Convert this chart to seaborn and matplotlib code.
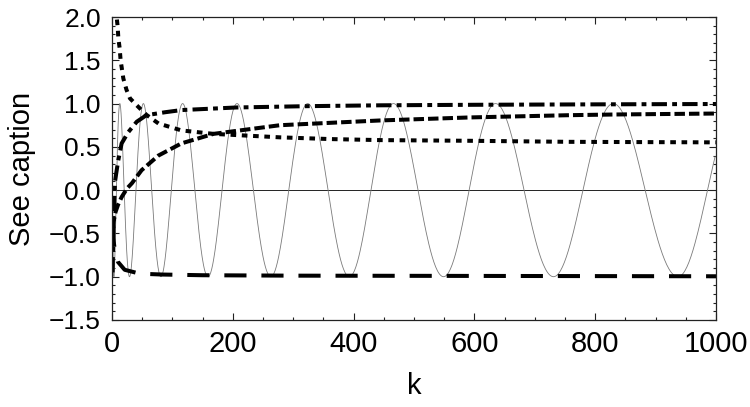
import numpy as np
import pandas as pd
import matplotlib
matplotlib.use('Agg')
import matplotlib.pyplot as plt
from matplotlib.ticker import MultipleLocator
import seaborn as sns

#values
k_dotted = [6, 7.7, 9.4, 10.5, 12.7, 14.3, 18.8, 24, 29.8, 41, 57, 77, 115, 168, 278, 361, 444, 593, 758, 1000]
v_dotted = [2.1, 2.0, 1.89, 1.76, 1.64, 1.50, 1.29, 1.16, 1.06, 0.98, 0.87, 0.77, 0.69, 0.65, 0.61, 0.59, 0.578, 0.57, 0.558, 0.552]

k_dashdot = [1, 2, 3, 5, 10, 16, 27, 41, 57, 88, 115, 206, 322, 444, 600, 800, 1000]
v_dashdot = [-0.95, -0.6, -0.3, 0.1, 0.33, 0.54, 0.67, 0.79, 0.866, 0.9, 0.925, 0.955, 0.97, 0.98, 0.986, 0.991, 0.995]

k_dashed = [1, 3, 6, 10, 16, 25, 33, 49, 77, 115, 168, 278, 444, 593, 758, 833, 1000]
v_dashed = [-0.6, -0.35, -0.25, -0.17, -0.08, 0.02, 0.08, 0.23, 0.40, 0.54, 0.65, 0.75, 0.805, 0.84, 0.866, 0.874, 0.885]

k_longdash = [1, 2, 5, 10, 21, 46, 83, 150, 300, 500, 1000]
v_longdash = [-0.4, -0.55, -0.71, -0.83, -0.92, -0.965, -0.975, -0.983, -0.988, -0.99, -0.995]

#thin oscillating curve: positions of its maxima (+1) and minima (-1)
osc_peaks = [0, 13, 52, 117, 207, 324, 466, 635, 830, 1036]
osc_troughs = [3.2, 29, 81, 159, 263, 393, 549, 731, 937]

#join the extrema with half-cosine arcs
ext = sorted([(k, 1.0) for k in osc_peaks] + [(k, -1.0) for k in osc_troughs])
osc_k, osc_v = [], []
for (ka, va), (kb, vb) in zip(ext[:-1], ext[1:]):
    s = np.linspace(np.sqrt(ka), np.sqrt(kb), 60)
    t = (s - s[0]) / (s[-1] - s[0])
    osc_k.extend(s ** 2)
    osc_v.extend(va + (vb - va) * (1 - np.cos(np.pi * t)) / 2)
osc = pd.DataFrame({'k': osc_k, 'v': osc_v})
osc = osc[osc['k'] <= 1000].drop_duplicates('k')

sns.set_style('ticks')
plt.rcParams['font.family'] = ['Liberation Sans', 'DejaVu Sans']
plt.rcParams['text.color'] = 'black'
plt.rcParams['axes.labelcolor'] = 'black'
plt.rcParams['xtick.color'] = 'black'
plt.rcParams['ytick.color'] = 'black'

fig = plt.figure(figsize=(7.5, 4.07), dpi=100)
ax = fig.add_axes([0.1493, 0.2138, 0.8054, 0.7444])

lw = 2.9
ax.axhline(0, color='#222222', lw=0.7, zorder=1)
sns.lineplot(data=osc, x='k', y='v', ax=ax, color='#7a7a7a', lw=0.6, estimator=None, sort=False)
sns.lineplot(x=k_dotted, y=v_dotted, ax=ax, color='black', lw=lw, linestyle=(0, (1.4, 1.4)), estimator=None)
sns.lineplot(x=k_dashdot, y=v_dashdot, ax=ax, color='black', lw=lw, linestyle=(0, (3.8, 1.3, 1.2, 1.3)), estimator=None)
sns.lineplot(x=k_dashed, y=v_dashed, ax=ax, color='black', lw=lw, linestyle=(0, (2.6, 1.0)), estimator=None)
sns.lineplot(x=k_longdash, y=v_longdash, ax=ax, color='black', lw=lw, linestyle=(0, (5.5, 3.7)), estimator=None)

ax.set_xlim(0, 1000)
ax.set_ylim(-1.5, 2.0)
ax.xaxis.set_major_locator(MultipleLocator(200))
ax.xaxis.set_minor_locator(MultipleLocator(50))
ax.yaxis.set_major_locator(MultipleLocator(0.5))
ax.yaxis.set_minor_locator(MultipleLocator(0.1))
ax.yaxis.set_major_formatter(plt.FuncFormatter(lambda v, p: f'{v:.1f}'.replace('-', '\u2212')))
ax.tick_params(which='both', direction='in', top=True, right=True, width=0.8, color='#222222')
ax.tick_params(which='major', length=5)
ax.tick_params(which='minor', length=2.5)
ax.tick_params(axis='x', labelsize=21, pad=7)
ax.tick_params(axis='y', labelsize=19, pad=8)
for sp in ax.spines.values():
    sp.set_linewidth(0.9)
    sp.set_color('#222222')

ax.set_xlabel('k', fontsize=21, labelpad=10)
ax.set_ylabel('See caption', fontsize=21, labelpad=9)

fig.savefig('out.png', dpi=100)
